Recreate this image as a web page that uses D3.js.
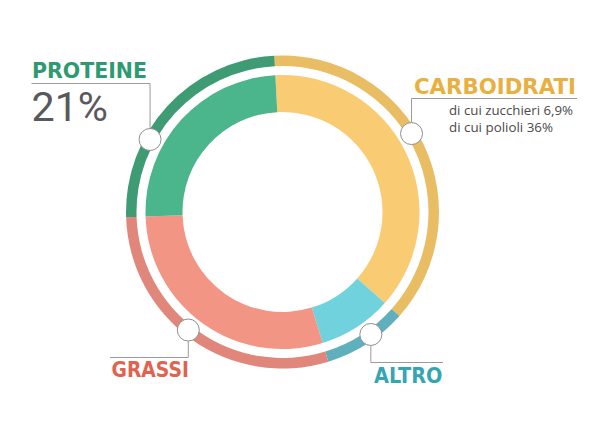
<!DOCTYPE html>
<html>
<head>
<meta charset="utf-8">
<script src="https://cdn.jsdelivr.net/npm/d3@7"></script>
<style>
html,body{margin:0;padding:0;background:#fff;}
svg{display:block;}
</style>
</head>
<body>
<svg id="chart" width="600" height="429"></svg>
<script>
// ---- data ----
const categories = ["Carboidrati", "Altro", "Grassi", "Proteine"];
const values = [37.4, 8.7, 29.2, 24.7];
const titles = ["CARBOIDRATI", "ALTRO", "GRASSI", "PROTEINE"];
const bigValues = ["", "", "", "21%"];
const subLines = [["di cui zucchieri 6,9%", "di cui polioli 36%"], [], [], []];

// ---- styles / layout ----
const innerColors = ["#f9cb72", "#6fd2dd", "#f39584", "#4bb58c"];
const outerColors = ["#e8bd64", "#5fb0bc", "#e0867a", "#3e9b74"];
const textColors  = ["#e8b040", "#36a5b3", "#e0624f", "#2e9a72"];
const cx = 282.5, cy = 212;
const deg = Math.PI / 180;
const startAngle = -3 * deg;

// label layout (marker angle on outer ring, leader elbow, text anchor)
const layout = {
  "Carboidrati": {angle: 58.7, elbowY: 98.5, endX: 577, tx: 414, ty: 94, tw: 162, subX: 449, subY: [115, 131.5], subW: [124, 104]},
  "Altro":       {angle: 144.2, elbowY: 362.5, endX: 443, tx: 374, ty: 382.7, tw: 68.5},
  "Grassi":      {angle: 218.6, elbowY: 357.5, endX: 110, tx: 111.5, ty: 376.7, tw: 77.5},
  "Proteine":    {angle: 298.7, elbowY: 83.5, endX: 31.5, tx: 32, ty: 77.5, tw: 115, bx: 31.5, by: 120.5, bw: 76.5}
};

const svg = d3.select("#chart");
const g = svg.append("g").attr("transform", `translate(${cx},${cy})`);

const pie = d3.pie().sort(null).value(d => d.value)
  .startAngle(startAngle).endAngle(startAngle + 2 * Math.PI);
const data = categories.map((c, i) => ({name: c, value: values[i], i}));
const arcs = pie(data);

const innerArc = d3.arc().innerRadius(100).outerRadius(137);
const outerArc = d3.arc().innerRadius(146).outerRadius(156.5);

g.selectAll("path.inner").data(arcs).join("path")
  .attr("class", "inner")
  .attr("d", innerArc)
  .attr("fill", d => innerColors[d.data.i]);

g.selectAll("path.outer").data(arcs).join("path")
  .attr("class", "outer")
  .attr("d", outerArc)
  .attr("fill", d => outerColors[d.data.i]);

// labels
const markerR = 151, circleR = 11;
const fontHead = "'DejaVu Sans', sans-serif";
categories.forEach((c, i) => {
  const L = layout[c];
  const a = L.angle * deg;
  const mx = cx + markerR * Math.sin(a);
  const my = cy - markerR * Math.cos(a);
  const up = L.elbowY < my;
  const sy = up ? my - circleR : my + circleR;
  svg.append("path")
    .attr("d", `M${mx},${sy}V${L.elbowY}H${L.endX}`)
    .attr("fill", "none")
    .attr("stroke", "#9a9a9a")
    .attr("stroke-width", 1);
  svg.append("circle")
    .attr("cx", mx).attr("cy", my).attr("r", circleR)
    .attr("fill", "#fff")
    .attr("stroke", "#8f8f8f")
    .attr("stroke-width", 1);
  svg.append("text")
    .attr("x", L.tx).attr("y", L.ty)
    .attr("font-family", fontHead)
    .attr("font-weight", "bold")
    .attr("font-size", 20.5)
    .attr("fill", textColors[i])
    .attr("textLength", L.tw)
    .attr("lengthAdjust", "spacingAndGlyphs")
    .text(titles[i]);
  if (bigValues[i]) {
    svg.append("text")
      .attr("x", L.bx).attr("y", L.by)
      .attr("font-family", "Roboto, sans-serif")
      .attr("font-size", 40.5)
      .attr("fill", "#58595b")
      .attr("textLength", L.bw)
      .attr("lengthAdjust", "spacingAndGlyphs")
      .text(bigValues[i]);
  }
  subLines[i].forEach((s, k) => {
    svg.append("text")
      .attr("x", L.subX).attr("y", L.subY[k])
      .attr("font-family", "'Open Sans', sans-serif")
      .attr("font-size", 13.5)
      .attr("fill", "#4a4a4a")
      .attr("textLength", L.subW[k])
      .attr("lengthAdjust", "spacingAndGlyphs")
      .text(s);
  });
});
</script>
</body>
</html>
